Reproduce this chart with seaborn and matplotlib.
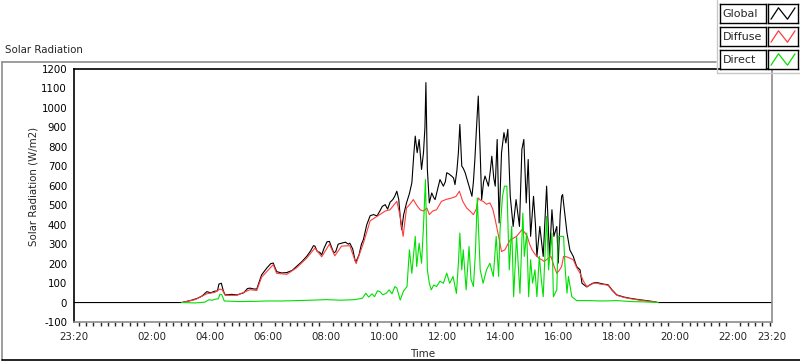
import pandas as pd
import seaborn as sns
import matplotlib
import matplotlib.pyplot as plt
import matplotlib.dates as mdates
from matplotlib.lines import Line2D

matplotlib.use("Agg")

# chart window: one day, 23:20 -> 23:20
DAY = "2024-01-02"
X_START = pd.Timestamp("2024-01-01 23:20")
X_END = pd.Timestamp("2024-01-02 23:20")

global_time = [
    "03:02", "03:20", "03:35", "03:45", "03:54", "04:02", "04:10", "04:16", "04:19", "04:24",
    "04:28", "04:32", "04:45", "04:56", "05:10", "05:18", "05:23", "05:30", "05:37", "05:42",
    "05:47", "05:58", "06:06", "06:11", "06:18", "06:28", "06:39", "06:50", "06:59", "07:10",
    "07:20", "07:28", "07:34", "07:37", "07:42", "07:47", "07:51", "07:56", "08:02", "08:07",
    "08:12", "08:16", "08:20", "08:25", "08:32", "08:40", "08:46", "08:49", "08:55", "09:00",
    "09:02", "09:08", "09:13", "09:17", "09:24", "09:31", "09:38", "09:45", "09:51", "09:56",
    "10:02", "10:07", "10:12", "10:18", "10:22", "10:26", "10:30", "10:33", "10:36", "10:40",
    "10:46", "10:52", "10:57", "11:01", "11:04", "11:08", "11:12", "11:17", "11:21", "11:24",
    "11:26", "11:29", "11:33", "11:38", "11:42", "11:45", "11:50", "11:55", "12:02", "12:06",
    "12:09", "12:14", "12:19", "12:23", "12:26", "12:30", "12:33", "12:36", "12:40", "12:43",
    "12:47", "12:54", "13:01", "13:04", "13:07", "13:10", "13:14", "13:18", "13:21", "13:25",
    "13:28", "13:35", "13:39", "13:42", "13:46", "13:49", "13:53", "13:57", "14:02", "14:07",
    "14:11", "14:15", "14:20", "14:26", "14:32", "14:36", "14:39", "14:44", "14:48", "14:53",
    "14:57", "15:02", "15:08", "15:12", "15:15", "15:21", "15:28", "15:35", "15:41", "15:46",
    "15:50", "15:56", "15:59", "16:03", "16:06", "16:08", "16:10", "16:14", "16:17", "16:23",
    "16:30", "16:37", "16:44", "16:48", "16:58", "17:05", "17:11", "17:18", "17:25", "17:32",
    "17:42", "17:50", "18:00", "18:15", "18:27", "18:45", "19:01", "19:15", "19:25",
]
global_val = [
    0, 10, 22, 35, 56, 50, 58, 60, 95, 99,
    60, 39, 42, 39, 50, 72, 74, 70, 69, 105,
    142, 178, 200, 203, 159, 152, 154, 165, 185, 210,
    237, 265, 292, 290, 262, 258, 245, 280, 312, 314,
    280, 255, 262, 300, 305, 310, 300, 305, 275, 215,
    211, 245, 300, 323, 400, 446, 452, 445, 470, 494,
    503, 480, 515, 530, 548, 572, 529, 440, 374, 450,
    512, 560, 615, 760, 855, 770, 838, 684, 770, 900,
    1130, 684, 512, 563, 540, 529, 580, 632, 598, 620,
    667, 660, 650, 640, 606, 680, 770, 915, 701, 690,
    667, 606, 546, 620, 735, 880, 1061, 770, 529, 620,
    650, 598, 680, 752, 640, 598, 838, 409, 770, 873,
    820, 890, 546, 391, 529, 450, 391, 787, 838, 512,
    735, 340, 546, 400, 237, 391, 237, 598, 237, 477,
    340, 391, 203, 450, 546, 555, 512, 430, 359, 270,
    237, 185, 168, 99, 80, 92, 100, 103, 99, 95,
    91, 65, 39, 28, 22, 15, 10, 5, 0,
]

diffuse_time = [
    "03:02", "03:30", "03:54", "04:10", "04:21", "04:26", "04:32", "04:56", "05:23", "05:37",
    "05:47", "06:11", "06:18", "06:39", "06:59", "07:20", "07:37", "07:51", "08:07", "08:18",
    "08:32", "08:49", "09:02", "09:17", "09:31", "09:51", "10:02", "10:12", "10:26", "10:33",
    "10:39", "10:46", "10:53", "11:00", "11:07", "11:14", "11:21", "11:28", "11:33", "11:40",
    "11:48", "11:58", "12:08", "12:19", "12:28", "12:35", "12:42", "12:50", "12:57", "13:04",
    "13:10", "13:14", "13:19", "13:24", "13:31", "13:38", "13:44", "13:49", "13:56", "14:02",
    "14:09", "14:15", "14:20", "14:26", "14:33", "14:38", "14:44", "14:50", "14:55", "15:00",
    "15:05", "15:12", "15:19", "15:25", "15:30", "15:37", "15:44", "15:50", "15:56", "16:01",
    "16:06", "16:10", "16:16", "16:23", "16:30", "16:37", "16:44", "16:51", "16:58", "17:05",
    "17:11", "17:18", "17:25", "17:35", "17:42", "17:50", "18:00", "18:15", "18:27", "18:45",
    "19:01", "19:15", "19:25",
]
diffuse_val = [
    0, 15, 45, 52, 69, 65, 37, 37, 66, 62,
    130, 195, 150, 145, 178, 228, 280, 235, 300, 240,
    290, 292, 200, 305, 420, 452, 470, 477, 520, 443,
    340, 486, 505, 529, 500, 477, 470, 486, 452, 470,
    477, 520, 530, 537, 545, 572, 520, 486, 470, 452,
    480, 537, 525, 520, 505, 512, 480, 426, 340, 262,
    271, 300, 322, 330, 340, 355, 374, 360, 340, 300,
    271, 245, 228, 220, 211, 225, 237, 190, 150, 165,
    185, 237, 235, 228, 220, 180, 151, 110, 82, 90,
    98, 100, 95, 92, 88, 62, 37, 26, 20, 13,
    8, 4, 0,
]

direct_time = [
    "03:02", "03:30", "03:50", "03:58", "04:05", "04:10", "04:18", "04:21", "04:25", "04:30",
    "05:00", "05:30", "06:00", "06:30", "07:00", "07:30", "08:00", "08:30", "09:00", "09:15",
    "09:22", "09:28", "09:35", "09:40", "09:46", "09:51", "09:57", "10:04", "10:10", "10:16",
    "10:22", "10:26", "10:33", "10:40", "10:47", "10:52", "10:57", "11:04", "11:07", "11:12",
    "11:17", "11:21", "11:25", "11:29", "11:33", "11:37", "11:42", "11:48", "11:55", "12:02",
    "12:09", "12:15", "12:22", "12:29", "12:33", "12:36", "12:40", "12:43", "12:49", "12:55",
    "12:59", "13:04", "13:08", "13:12", "13:18", "13:24", "13:31", "13:38", "13:45", "13:51",
    "13:56", "13:59", "14:04", "14:08", "14:13", "14:18", "14:23", "14:27", "14:33", "14:40",
    "14:46", "14:49", "14:54", "14:58", "15:02", "15:06", "15:11", "15:15", "15:20", "15:24",
    "15:28", "15:35", "15:39", "15:46", "15:49", "15:56", "15:59", "16:10", "16:13", "16:17",
    "16:20", "16:27", "16:37", "17:00", "17:30", "18:00", "18:30", "19:00", "19:25",
]
direct_val = [
    0, -2, 2, 14, 12, 16, 20, 43, 40, 8,
    5, 6, 8, 8, 10, 12, 15, 12, 15, 22,
    48, 28, 45, 30, 60, 56, 40, 47, 65, 45,
    82, 75, 13, 60, 82, 271, 150, 340, 185, 305,
    202, 391, 632, 168, 100, 65, 90, 82, 110, 99,
    151, 99, 134, 47, 200, 357, 168, 271, 65, 288,
    120, 82, 250, 537, 168, 99, 168, 202, 134, 340,
    134, 374, 546, 598, 598, 168, 391, 30, 340, 47,
    460, 237, 357, 30, 220, 100, 168, 30, 237, 120,
    30, 443, 168, 357, 30, 65, 340, 340, 185, 48,
    134, 30, 10, 10, 8, 10, 5, 3, 0,
]

series_names = ["Global", "Diffuse", "Direct"]
series_colors = ["#000000", "#ff3b3b", "#00e000"]

x_tick_labels = ["23:20", "02:00", "04:00", "06:00", "08:00", "10:00", "12:00",
                 "14:00", "16:00", "18:00", "20:00", "22:00", "23:20"]
y_ticks = list(range(-100, 1300, 100))

FONT = "DejaVu Sans"
FS = 7.4


def to_times(hhmm):
    return pd.to_datetime([f"{DAY} {t}" for t in hhmm])


# global sits on zero all night, over the whole window
glob = pd.DataFrame({"t": to_times(global_time), "v": global_val})
glob = pd.concat([pd.DataFrame({"t": [X_START], "v": [0]}), glob,
                  pd.DataFrame({"t": [X_END], "v": [0]})], ignore_index=True)
diff = pd.DataFrame({"t": to_times(diffuse_time), "v": diffuse_val})
dirc = pd.DataFrame({"t": to_times(direct_time), "v": direct_val})

sns.set_style("white")
plt.rcParams["font.family"] = [FONT]

fig = plt.figure(figsize=(8, 3.61), dpi=100)
W, H = 800, 361


def fx(px):
    return px / W


def fy(py):
    return 1 - py / H


ax = fig.add_axes([fx(74), fy(322), fx(772) - fx(74), fy(69) - fy(322)])

for df, col in zip([glob, diff, dirc], series_colors):
    sns.lineplot(data=df, x="t", y="v", ax=ax, color=col, lw=0.8,
                 estimator=None, sort=False, legend=False)

ax.set_xlim(X_START, X_END)
ax.set_ylim(-100, 1200)
ax.set_yticks(y_ticks)
ax.set_yticklabels([str(v) for v in y_ticks], fontsize=FS)

major = [X_START] + list(pd.date_range(f"{DAY} 02:00", f"{DAY} 22:00", freq="2h")) + [X_END]
ax.set_xticks(major)
ax.set_xticklabels(x_tick_labels, fontsize=FS)
ax.xaxis.set_minor_locator(mdates.MinuteLocator(byminute=[0, 15, 30, 45]))

ax.tick_params(axis="y", direction="out", length=4, width=1, pad=1, colors="black")
ax.tick_params(axis="x", which="major", direction="out", length=5, width=1, pad=2)
ax.tick_params(axis="x", which="minor", direction="out", length=3, width=1, bottom=True)

ax.set_xlabel("")
ax.set_ylabel("")
ax.grid(False)
for side in ["left", "top"]:
    ax.spines[side].set_color("black")
    ax.spines[side].set_linewidth(1.2)
for side in ["right", "bottom"]:
    ax.spines[side].set_color("#8c8c8c")
    ax.spines[side].set_linewidth(1.2)

# labels
fig.text(fx(5), fy(50), "Solar Radiation", fontsize=FS, va="center", ha="left")
fig.text(fx(33), fy(186), "Solar Radiation (W/m2)", fontsize=FS, rotation=90,
         va="center", ha="center")
fig.text(fx(423), fy(354), "Time", fontsize=FS, va="center", ha="center")

# outer sunken frame
fig.add_artist(Line2D([fx(1.5), fx(716)], [fy(61.5), fy(61.5)], color="#8c8c8c", lw=1.2))
fig.add_artist(Line2D([fx(1.5), fx(1.5)], [fy(61.5), fy(360)], color="#8c8c8c", lw=1.2))
fig.add_artist(Line2D([fx(1.5), fx(800)], [fy(359.8), fy(359.8)], color="black", lw=1.2))

# legend panel at top right
fig.add_artist(Line2D([fx(717), fx(717)], [fy(0), fy(72.5)], color="#c8c8c8", lw=1))
fig.add_artist(Line2D([fx(717), fx(800)], [fy(72.5), fy(72.5)], color="#c8c8c8", lw=1))
for i, (name, col) in enumerate(zip(series_names, series_colors)):
    top = 4 + i * 23
    tax = fig.add_axes([fx(720), fy(top + 19), fx(46), 19 / H])
    tax.set_xticks([])
    tax.set_yticks([])
    for sp in tax.spines.values():
        sp.set_color("black")
        sp.set_linewidth(1)
    tax.text(0.06, 0.45, name, fontsize=FS + 0.6, va="center", ha="left",
             transform=tax.transAxes)
    lax = fig.add_axes([fx(768), fy(top + 19), fx(30), 19 / H])
    lax.set_xticks([])
    lax.set_yticks([])
    for sp in lax.spines.values():
        sp.set_color("black")
        sp.set_linewidth(1)
    lax.plot([0.1, 0.35, 0.65, 0.9], [0.2, 0.8, 0.2, 0.8], color=col, lw=0.9)
    lax.set_xlim(0, 1)
    lax.set_ylim(0, 1)

fig.savefig("out.png", dpi=100)
